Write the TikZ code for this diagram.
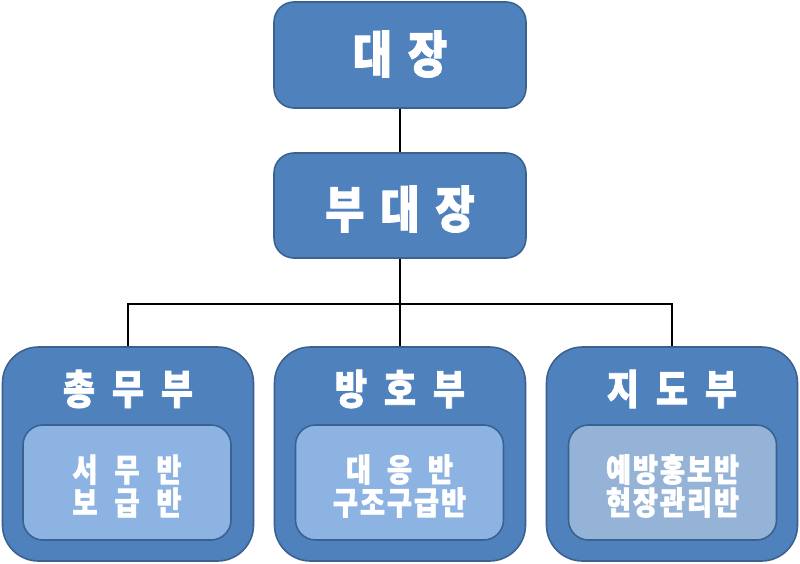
\documentclass[tikz,border=0pt]{standalone}
\usepackage{fontspec}
\newfontfamily\kr{Noto Sans CJK KR}[FakeStretch=0.85, BoldFeatures={FakeBold=1.8}]
\newcommand\gk[1]{\hspace*{#1}}
\definecolor{boxfill}{HTML}{4F81BD}
\definecolor{boxline}{HTML}{3A6290}
\definecolor{innerfill}{HTML}{8DB3E2}
\definecolor{innerfillb}{HTML}{95B3D7}
\tikzset{
  topbox/.style={draw=boxline, line width=1.6pt, fill=boxfill, rounded corners=20pt,
    minimum width=252pt, minimum height=106pt, inner sep=0pt},
  deptbox/.style={draw=boxline, line width=1.6pt, fill=boxfill, rounded corners=36pt,
    minimum width=251pt, minimum height=214pt, inner sep=0pt},
  innerbox/.style={draw=boxline, line width=1.6pt, fill=innerfill, rounded corners=20pt,
    minimum width=208pt, minimum height=115pt, inner sep=0pt},
  bigtxt/.style={text=white, font=\kr\bfseries\fontsize{50pt}{54pt}\selectfont, inner sep=0pt},
  midtxt/.style={text=white, font=\kr\bfseries\fontsize{41pt}{44pt}\selectfont, inner sep=0pt},
  smalltxt/.style={text=white, font=\kr\bfseries\fontsize{32pt}{33pt}\selectfont, inner sep=0pt, align=center},
  conn/.style={draw=black, line width=1.2pt}
}
\begin{document}
\begin{tikzpicture}[x=1pt,y=-1pt]
\useasboundingbox (0,0) rectangle (800,564);
% top
\node[topbox] (boss) at (400,55) {};
\node[bigtxt] (bosst) at (400,54) {대\gk{16pt}장};
\node[topbox, minimum height=105pt] (vice) at (400,205.5) {};
\node[bigtxt] (vicet) at (400,209) {부\gk{16pt}대\gk{16pt}장};
% departments
\node[deptbox] (d1) at (128,454) {};
\node[deptbox] (d2) at (400,454) {};
\node[deptbox] (d3) at (672,454) {};
\node[midtxt] (t1) at (128,389) {총\gk{17pt}무\gk{17pt}부};
\node[midtxt] (t2) at (400,389) {방\gk{17pt}호\gk{17pt}부};
\node[midtxt] (t3) at (672,389) {지\gk{17pt}도\gk{17pt}부};
% inner boxes
\node[innerbox] (i1) at (127,482.5) {};
\node[innerbox] (i2) at (399.5,482.5) {};
\node[innerbox, fill=innerfillb] (i3) at (672.5,482.5) {};
\node[smalltxt] (s1) at (127,486) {서\gk{17pt}무\gk{17pt}반\\보\gk{17pt}급\gk{17pt}반};
\node[smalltxt] (s2) at (399.5,486) {대\gk{16pt}응\gk{16pt}반\\구\gk{2pt}조\gk{2pt}구\gk{2pt}급\gk{2pt}반};
\node[smalltxt] (s3) at (672.5,486) {예\gk{2pt}방\gk{2pt}홍\gk{2pt}보\gk{2pt}반\\현\gk{2pt}장\gk{2pt}관\gk{2pt}리\gk{2pt}반};
% connectors
\coordinate (j) at (400,304);
\draw[conn] (boss.south) -- (vice.north);
\draw[conn] (vice.south) -- (j);
\draw[conn] (j) -- (d2.north);
\draw[conn] (d1.north) |- (j) -| (d3.north);
\end{tikzpicture}
\end{document}
